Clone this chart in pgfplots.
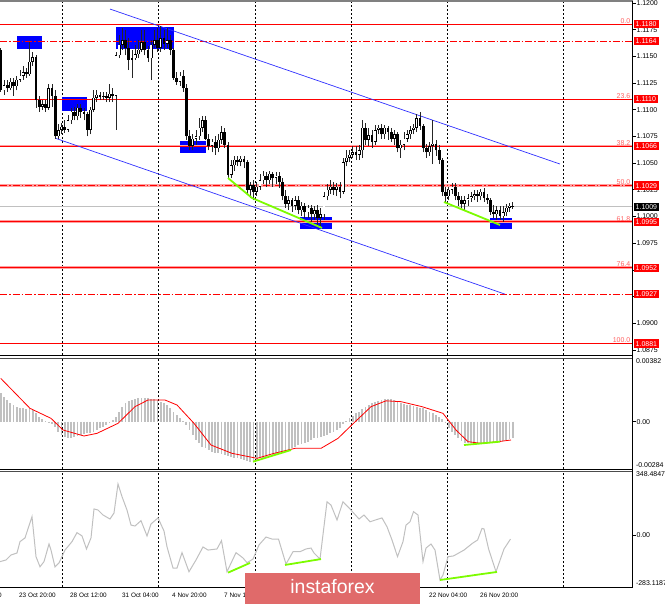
\documentclass[border=0pt]{standalone}
\usepackage{pgfplots}
\pgfplotsset{compat=1.18}
\usepackage{pgfplotstable}
\usepackage{fontspec}
\setmainfont{Liberation Sans}
\definecolor{silv}{HTML}{C0C0C0}
\definecolor{fibpink}{HTML}{FFA0A0}
\definecolor{fibtxt}{HTML}{FF6060}
\definecolor{lgreen}{HTML}{7CFC00}
\definecolor{wm}{HTML}{E06A6A}
\definecolor{chan}{HTML}{3030FF}

\pgfplotstableread{
x o h l c
3.9 1.1118 1.1128 1.1114 1.1123
10.3 1.1120 1.1130 1.1118 1.1126
16.7 1.1122 1.1132 1.1118 1.1128
19.9 1.1128 1.1137 1.1126 1.1132
23.1 1.1132 1.1141 1.1128 1.1135
29.5 1.1133 1.1163 1.1132 1.1145
32.7 1.1145 1.1154 1.1141 1.1149
42.3 1.1103 1.1109 1.1100 1.1105
48.7 1.1102 1.1124 1.1100 1.1120
58.3 1.1075 1.1087 1.1073 1.1081
61.5 1.1081 1.1088 1.1077 1.1084
67.9 1.1081 1.1095 1.1079 1.1090
71.1 1.1090 1.1102 1.1087 1.1098
77.5 1.1094 1.1105 1.1090 1.1102
90.3 1.1081 1.1103 1.1077 1.1100
93.5 1.1100 1.1118 1.1098 1.1111
96.7 1.1111 1.1118 1.1107 1.1114
103.1 1.1112 1.1117 1.1109 1.1113
109.5 1.1111 1.1124 1.1107 1.1115
115.9 1.1113 1.1154 1.1081 1.1151
119.1 1.1151 1.1170 1.1148 1.1161
122.3 1.1161 1.1177 1.1156 1.1165
131.9 1.1147 1.1156 1.1130 1.1148
135.1 1.1148 1.1161 1.1147 1.1152
138.3 1.1152 1.1165 1.1148 1.1156
141.5 1.1156 1.1175 1.1154 1.1163
151.1 1.1148 1.1165 1.1128 1.1161
154.3 1.1161 1.1175 1.1158 1.1165
160.7 1.1158 1.1178 1.1154 1.1167
167.1 1.1162 1.1177 1.1158 1.1165
179.9 1.1126 1.1135 1.1122 1.1132
192.7 1.1066 1.1077 1.1062 1.1073
195.9 1.1073 1.1081 1.1067 1.1075
199.1 1.1075 1.1092 1.1072 1.1083
202.3 1.1083 1.1094 1.1079 1.1090
211.9 1.1066 1.1073 1.1060 1.1070
218.3 1.1064 1.1077 1.1060 1.1072
221.5 1.1072 1.1085 1.1068 1.1079
231.1 1.1039 1.1053 1.1036 1.1048
234.3 1.1048 1.1057 1.1043 1.1053
240.7 1.1051 1.1057 1.1047 1.1054
250.3 1.1025 1.1032 1.1017 1.1029
256.7 1.1023 1.1032 1.1019 1.1028
259.9 1.1028 1.1040 1.1025 1.1034
263.1 1.1034 1.1043 1.1030 1.1038
269.5 1.1034 1.1043 1.1030 1.1040
275.9 1.1036 1.1042 1.1030 1.1038
288.7 1.1012 1.1019 1.1006 1.1015
295.1 1.1010 1.1019 1.1006 1.1015
301.5 1.1006 1.1014 1.1000 1.1010
307.9 1.1004 1.1011 1.0999 1.1008
314.3 1.1002 1.1010 1.0997 1.1006
320.7 1.0999 1.1008 1.0989 1.1002
323.9 1.1002 1.1023 1.0997 1.1019
327.1 1.1019 1.1030 1.1015 1.1025
330.3 1.1025 1.1034 1.1021 1.1028
336.7 1.1025 1.1031 1.1019 1.1028
343.1 1.1023 1.1055 1.1021 1.1051
346.3 1.1051 1.1062 1.1047 1.1055
349.5 1.1055 1.1062 1.1051 1.1058
352.7 1.1058 1.1066 1.1055 1.1060
359.1 1.1058 1.1067 1.1053 1.1062
362.3 1.1062 1.1090 1.1055 1.1083
368.7 1.1072 1.1083 1.1066 1.1076
375.1 1.1070 1.1086 1.1067 1.1081
378.3 1.1081 1.1086 1.1077 1.1083
384.7 1.1077 1.1086 1.1073 1.1083
394.3 1.1073 1.1081 1.1067 1.1077
400.7 1.1064 1.1072 1.1055 1.1067
403.9 1.1067 1.1079 1.1062 1.1073
407.1 1.1073 1.1081 1.1070 1.1077
410.3 1.1077 1.1085 1.1073 1.1081
413.5 1.1081 1.1087 1.1077 1.1083
416.7 1.1083 1.1096 1.1079 1.1092
429.5 1.1060 1.1070 1.1057 1.1066
432.7 1.1066 1.1090 1.1049 1.1068
448.7 1.1019 1.1028 1.1015 1.1025
451.9 1.1025 1.1031 1.1021 1.1028
464.7 1.1012 1.1019 1.1006 1.1015
467.9 1.1015 1.1021 1.1010 1.1017
471.1 1.1017 1.1023 1.1014 1.1019
474.3 1.1019 1.1025 1.1015 1.1021
480.7 1.1019 1.1026 1.1015 1.1023
496.7 1.1002 1.1010 1.0997 1.1006
503.1 1.1000 1.1010 1.0995 1.1004
506.3 1.1004 1.1012 1.1000 1.1008
509.5 1.1008 1.1013 1.1004 1.1010
}\bull

\pgfplotstableread{
x o h l c
0.7 1.1156 1.1158 1.1117 1.1118
7.1 1.1123 1.1128 1.1117 1.1120
13.5 1.1126 1.1130 1.1113 1.1122
26.3 1.1135 1.1139 1.1130 1.1133
35.9 1.1149 1.1151 1.1102 1.1109
39.1 1.1109 1.1113 1.1098 1.1103
45.5 1.1105 1.1109 1.1098 1.1102
51.9 1.1120 1.1124 1.1103 1.1113
55.1 1.1113 1.1118 1.1073 1.1075
64.7 1.1084 1.1090 1.1078 1.1081
74.3 1.1098 1.1103 1.1090 1.1094
80.7 1.1102 1.1105 1.1092 1.1098
83.9 1.1098 1.1102 1.1090 1.1096
87.1 1.1096 1.1098 1.1075 1.1081
99.9 1.1114 1.1117 1.1109 1.1112
106.3 1.1113 1.1117 1.1107 1.1111
112.7 1.1115 1.1120 1.1107 1.1113
125.5 1.1165 1.1175 1.1151 1.1158
128.7 1.1158 1.1167 1.1137 1.1147
144.7 1.1163 1.1175 1.1151 1.1156
147.9 1.1156 1.1160 1.1145 1.1148
157.5 1.1165 1.1177 1.1154 1.1158
163.9 1.1167 1.1175 1.1156 1.1162
170.3 1.1165 1.1170 1.1151 1.1156
173.5 1.1156 1.1158 1.1128 1.1130
176.7 1.1130 1.1135 1.1123 1.1126
183.1 1.1132 1.1137 1.1117 1.1120
186.3 1.1120 1.1124 1.1072 1.1075
189.5 1.1075 1.1081 1.1062 1.1066
205.5 1.1090 1.1094 1.1072 1.1073
208.7 1.1073 1.1077 1.1062 1.1066
215.1 1.1070 1.1075 1.1058 1.1064
224.7 1.1079 1.1083 1.1064 1.1067
227.9 1.1067 1.1070 1.1036 1.1039
237.5 1.1053 1.1057 1.1047 1.1051
243.9 1.1054 1.1057 1.1045 1.1051
247.1 1.1051 1.1053 1.1020 1.1025
253.5 1.1029 1.1034 1.1015 1.1023
266.3 1.1038 1.1042 1.1028 1.1034
272.7 1.1040 1.1042 1.1028 1.1036
279.1 1.1038 1.1042 1.1027 1.1032
282.3 1.1032 1.1036 1.1015 1.1019
285.5 1.1019 1.1025 1.1008 1.1012
291.9 1.1015 1.1017 1.1004 1.1010
298.3 1.1015 1.1019 1.1002 1.1006
304.7 1.1010 1.1013 1.0999 1.1004
311.1 1.1008 1.1011 1.0995 1.1002
317.5 1.1006 1.1011 1.0991 1.0999
333.5 1.1028 1.1032 1.1020 1.1025
339.9 1.1028 1.1032 1.1017 1.1023
355.9 1.1060 1.1066 1.1053 1.1058
365.5 1.1083 1.1088 1.1067 1.1072
371.9 1.1076 1.1081 1.1064 1.1070
381.5 1.1083 1.1087 1.1073 1.1077
387.9 1.1083 1.1085 1.1072 1.1079
391.1 1.1079 1.1083 1.1070 1.1073
397.5 1.1077 1.1079 1.1060 1.1064
419.9 1.1092 1.1098 1.1081 1.1085
423.1 1.1085 1.1087 1.1060 1.1064
426.3 1.1064 1.1068 1.1055 1.1060
435.9 1.1068 1.1072 1.1057 1.1062
439.1 1.1062 1.1067 1.1049 1.1053
442.3 1.1053 1.1055 1.1019 1.1023
445.5 1.1023 1.1028 1.1014 1.1019
455.1 1.1028 1.1031 1.1015 1.1019
458.3 1.1019 1.1023 1.1010 1.1015
461.5 1.1015 1.1019 1.1008 1.1012
477.5 1.1021 1.1025 1.1014 1.1019
483.9 1.1023 1.1027 1.1014 1.1017
487.1 1.1017 1.1021 1.1012 1.1015
490.3 1.1015 1.1017 1.1001 1.1004
493.5 1.1004 1.1011 1.0999 1.1002
499.9 1.1006 1.1010 1.0997 1.1000
512.7 1.1010 1.1014 1.1007 1.1009
}\bear

\pgfplotstableread{
j v
0 0.0017
1 0.0015
2 0.0013
3 0.0011
4 0.0010
5 0.0009
6 0.0008
7 0.0008
8 0.00075
9 0.0008
10 0.0007
11 0.0005
12 0.0003
13 0.00015
14 0.00005
15 -0.00005
16 -0.00015
17 -0.0003
18 -0.0006
19 -0.0008
20 -0.0009
21 -0.00095
22 -0.00095
23 -0.0009
24 -0.00085
25 -0.0008
26 -0.00075
27 -0.0007
28 -0.00065
29 -0.0006
30 -0.0005
31 -0.0004
32 -0.0003
33 -0.0002
34 -0.0001
35 0.0001
36 0.0003
37 0.0006
38 0.0009
39 0.0011
40 0.00125
41 0.0013
42 0.00135
43 0.0014
44 0.0014
45 0.0014
46 0.0014
47 0.00135
48 0.00135
49 0.0013
50 0.0012
51 0.0011
52 0.0010
53 0.0008
54 0.0006
55 0.0004
56 0.0002
57 0.00005
58 -0.0002
59 -0.0005
60 -0.0008
61 -0.0011
62 -0.0013
63 -0.0015
64 -0.0016
65 -0.0017
66 -0.0018
67 -0.00185
68 -0.0019
69 -0.00195
70 -0.0020
71 -0.00205
72 -0.0021
73 -0.00215
74 -0.0022
75 -0.00225
76 -0.0023
77 -0.00235
78 -0.0024
79 -0.0024
80 -0.0023
81 -0.0022
82 -0.00215
83 -0.0021
84 -0.00205
85 -0.0020
86 -0.00195
87 -0.0019
88 -0.00185
89 -0.0018
90 -0.0017
91 -0.0016
92 -0.0015
93 -0.0014
94 -0.00135
95 -0.0013
96 -0.0012
97 -0.0011
98 -0.0010
99 -0.00095
100 -0.0009
101 -0.00085
102 -0.0008
103 -0.0007
104 -0.0006
105 -0.0005
106 -0.00035
107 -0.00015
108 0.00005
109 0.0002
110 0.00035
111 0.0005
112 0.0006
113 0.00075
114 0.0009
115 0.0010
116 0.0011
117 0.0012
118 0.00125
119 0.0013
120 0.00135
121 0.00135
122 0.00135
123 0.0013
124 0.0012
125 0.0011
126 0.00105
127 0.0010
128 0.0010
129 0.00095
130 0.0009
131 0.00085
132 0.0008
133 0.0007
134 0.0006
135 0.0005
136 0.0004
137 0.0003
138 0.00015
139 -0.0001
140 -0.0004
141 -0.0006
142 -0.0008
143 -0.0010
144 -0.00115
145 -0.00125
146 -0.0013
147 -0.0013
148 -0.0013
149 -0.0013
150 -0.0013
151 -0.00125
152 -0.00125
153 -0.00125
154 -0.00125
155 -0.0012
156 -0.0012
157 -0.00115
158 -0.0011
159 -0.00105
160 -0.0010
}\macdhist

\pgfplotstableread{
x v
0.7 0.0026
30 0.0008
51 0.0002
63 -0.0005
84 -0.00086
97 -0.0007
118 -0.0001
135 0.0009
148 0.0013
165 0.0013
177 0.0010
194 -0.0001
211 -0.0014
232 -0.0019
257 -0.0022
274 -0.0019
295 -0.0016
321 -0.0016
338 -0.0010
350 -0.0003
371 0.0009
386 0.00125
401 0.0012
422 0.0009
443 0.0005
456 -0.0005
468 -0.0012
481 -0.0013
498 -0.0012
511 -0.0011
}\macdsig

\pgfplotstableread{
x v
0 -145
6 -136
11 -109
17 -98
20 -36
25 -16
32 100
36 -118
40 -173
44 -145
49 -49
51 -82
55 -174
59 -152
65 -82
72 -36
77 13
82 -5
86.5 -76
91 -16
94 142
98 136
103 109
110 87
114 120
118 278
122 209
127 136
131 54
135 49
141 78
147 -5
151 60
158 93
164 22
167 -64
173 -180
177 -180
182 -96
189 -200
196 -136
203 -65
208 -82
217 -76
221.5 -31
227 -200
236 -96
243 -125
247 -151
253 -131
259 -54
266 -11
272 -22
278.5 -22
286 -158
293 -91
300 -91
306 -76
311 -71
314 -98
320 -131
327 181
331 163
337 82
343 181
350 142
359 87
364 109
370 72
375.5 82
382 93
387 45
392 -27
397.5 -118
403 -36
406 54
410 72
413.5 127
418 109
423 -145
426 -71
431 -49
435 -82
440 -245
443 -218
448 -118
453.5 -114
464 -82
472.5 -45
477.6 -27
482 36
484 33
488.6 -76
496 -200
504 -76
510.5 -22
}\cci

\pgfplotsset{
  mt/.style={
    scale only axis, width=632.5bp, xmin=0, xmax=632.5,
    anchor=north west, clip mode=individual,
    axis line style={draw=none},
    xtick={62,158,255,351,447,563}, xticklabels={},
    xmajorgrids, xtick style={draw=none},
    x grid style={black, line width=0.6bp, dash pattern=on 2bp off 2bp},
    ytick pos=right, yticklabel pos=right, tick align=outside,
    major tick length=3bp, ytick style={black, line width=0.6bp},
    yticklabel style={font=\fontsize{7}{8}\selectfont, inner sep=0.8bp},
    /pgf/number format/assume math mode=true,
    scaled y ticks=false,
  },
  lvl/.style={forget plot, line width=0.9bp, red},
  halo/.style={forget plot, line width=2.6bp, fibpink},
  dd/.style={forget plot, line width=0.9bp, red, dash pattern=on 7bp off 2bp on 1.5bp off 2bp},
  box/.style={fill=blue, draw=none, forget plot},
  wick/.style={draw=none, forget plot, error bars/.cd, y dir=plus, y explicit, error mark=none, error bar style={draw=black!85, line width=0.7bp}},
  bodyk/.style={draw=none, forget plot, error bars/.cd, y dir=plus, y explicit, error mark=none, error bar style={draw=black, line width=2.8bp}},
  bodyw/.style={draw=none, forget plot, error bars/.cd, y dir=plus, y explicit, error mark=none, error bar style={draw=white, line width=1.3bp}},
}
\tikzset{
  rlab/.style={anchor=west, fill=red, text=white, font=\fontsize{7}{8}\selectfont, inner xsep=2bp, inner ysep=1.5bp, text height=5.2bp, text depth=0bp},
  flab/.style={anchor=south east, text=fibtxt, font=\fontsize{7}{8}\selectfont, inner sep=0.5bp},
}

\begin{document}
\begin{tikzpicture}[x=1bp,y=1bp]
\useasboundingbox (0bp,0bp) rectangle (665bp,-604bp);

% ---------------- main price panel
\begin{axis}[mt, at={(0bp,-2bp)}, height=353bp,
  ymin=1.08702, ymax=1.12009,
  ytick={1.0875,1.0900,1.0925,1.0950,1.0975,1.1000,1.1025,1.1050,1.1075,1.1100,1.1125,1.1150,1.1175,1.1200},
  yticklabel style={/pgf/number format/fixed, /pgf/number format/fixed zerofill, /pgf/number format/precision=4}]
% boxes
\addplot[box] coordinates {(17,1.1169) (42,1.1169) (42,1.11566) (17,1.11566)};
\addplot[box] coordinates {(62,1.11119) (87,1.11119) (87,1.10987) (62,1.10987)};
\addplot[box] coordinates {(116,1.11775) (174,1.11775) (174,1.11569) (116,1.11569)};
\addplot[box] coordinates {(180,1.10706) (206,1.10706) (206,1.10594) (180,1.10594)};
\addplot[box] coordinates {(300,1.09994) (332,1.09994) (332,1.09881) (300,1.09881)};
\addplot[box] coordinates {(490,1.09985) (512,1.09985) (512,1.09881) (490,1.09881)};
% levels
\addplot[halo] coordinates {(0,1.1066) (632.5,1.1066)};
\addplot[halo] coordinates {(0,1.1029) (632.5,1.1029)};
\addplot[halo] coordinates {(0,1.0995) (632.5,1.0995)};
\addplot[halo] coordinates {(0,1.0952) (632.5,1.0952)};
\addplot[lvl] coordinates {(0,1.1180) (632.5,1.1180)};
\addplot[dd] coordinates {(0,1.1164) (632.5,1.1164)};
\addplot[lvl] coordinates {(0,1.1110) (632.5,1.1110)};
\addplot[lvl] coordinates {(0,1.1066) (632.5,1.1066)};
\addplot[dd] coordinates {(0,1.1029) (632.5,1.1029)};
\addplot[lvl] coordinates {(0,1.0995) (632.5,1.0995)};
\addplot[lvl] coordinates {(0,1.0952) (632.5,1.0952)};
\addplot[dd] coordinates {(0,1.0927) (632.5,1.0927)};
\addplot[lvl] coordinates {(0,1.0881) (632.5,1.0881)};
\addplot[forget plot, silv, line width=0.8bp] coordinates {(0,1.1009) (632.5,1.1009)};
% channel
\addplot[forget plot, chan, line width=0.7bp] coordinates {(110,1.11943) (560,1.10491)};
\addplot[forget plot, chan, line width=0.7bp] coordinates {(55,1.10734) (505,1.09272)};
% candles
\addplot[wick] table[x=x, y=l, y error plus expr=\thisrow{h}-\thisrow{l}] {\bear};
\addplot[wick] table[x=x, y=l, y error plus expr=\thisrow{h}-\thisrow{l}] {\bull};
\addplot[bodyk] table[x=x, y=c, y error plus expr=\thisrow{o}-\thisrow{c}] {\bear};
\addplot[bodyk] table[x=x, y=o, y error plus expr=\thisrow{c}-\thisrow{o}] {\bull};
\addplot[bodyw] table[x=x, y expr=\thisrow{o}+0.00005, y error plus expr={max(\thisrow{c}-\thisrow{o}-0.0001,0)}] {\bull};
% divergence lines
\addplot[forget plot, lgreen, line width=1.8bp] coordinates {(228,1.10360) (252,1.10173) (322,1.09892)};
\addplot[forget plot, lgreen, line width=1.8bp] coordinates {(444,1.10135) (500,1.09920)};
% fib labels
\node[flab] at (axis cs:631,1.1180) {0.0};
\node[flab] at (axis cs:631,1.1110) {23.6};
\node[flab] at (axis cs:631,1.1066) {38.2};
\node[flab] at (axis cs:631,1.1029) {50.0};
\node[flab] at (axis cs:631,1.0995) {61.8};
\node[flab] at (axis cs:631,1.0952) {76.4};
\node[flab] at (axis cs:631,1.0881) {100.0};
% price labels
\node[rlab] at (axis cs:633.5,1.1180) {1.1180};
\node[rlab] at (axis cs:633.5,1.1164) {1.1164};
\node[rlab] at (axis cs:633.5,1.1110) {1.1110};
\node[rlab] at (axis cs:633.5,1.1066) {1.1066};
\node[rlab] at (axis cs:633.5,1.1029) {1.1029};
\node[rlab, fill=black] at (axis cs:633.5,1.1009) {1.1009};
\node[rlab] at (axis cs:633.5,1.0995) {1.0995};
\node[rlab] at (axis cs:633.5,1.0952) {1.0952};
\node[rlab] at (axis cs:633.5,1.0927) {1.0927};
\node[rlab] at (axis cs:633.5,1.0881) {1.0881};
\end{axis}

% ---------------- MACD panel
\begin{axis}[mt, at={(0bp,-358bp)}, height=111bp,
  ymin=-0.00284, ymax=0.00382, ytick={0}, yticklabels={0.00}]
\addplot[forget plot, ycomb, silv, line width=1.8bp] table[x expr=0.7+3.2*\thisrow{j}, y=v] {\macdhist};
\addplot[forget plot, red, line width=0.8bp] table[x=x, y=v] {\macdsig};
\addplot[forget plot, lgreen, line width=1.8bp] coordinates {(253,-0.0024) (291,-0.0017)};
\addplot[forget plot, lgreen, line width=1.8bp] coordinates {(464,-0.0014) (500,-0.0012)};
\node[anchor=north west, font=\fontsize{7}{8}\selectfont, inner sep=0.8bp] at (axis cs:635,0.00382) {0.00382};
\node[anchor=south west, font=\fontsize{7}{8}\selectfont, inner sep=0.8bp] at (axis cs:635,-0.00284) {-0.00284};
\end{axis}

% ---------------- CCI panel
\begin{axis}[mt, at={(0bp,-471bp)}, height=116bp,
  ymin=-283.1187, ymax=348.4847, ytick={0}, yticklabels={0.00}]
\addplot[forget plot, silv, line width=1.0bp] table[x=x, y=v] {\cci};
\addplot[forget plot, lgreen, line width=1.8bp] coordinates {(228,-205) (250,-152)};
\addplot[forget plot, lgreen, line width=1.8bp] coordinates {(285,-163) (321,-131)};
\addplot[forget plot, lgreen, line width=1.8bp] coordinates {(440,-245) (497,-201)};
\node[anchor=north west, font=\fontsize{7}{8}\selectfont, inner sep=0.8bp] at (axis cs:635,348.4847) {348.4847};
\node[anchor=south west, font=\fontsize{7}{8}\selectfont, inner sep=0.8bp] at (axis cs:635,-283.1187) {-283.1187};
\end{axis}

% frames
\draw[gray, line width=1.4bp] (0bp,-1.2bp) -- (632.5bp,-1.2bp);
\draw[black, line width=0.8bp] (0bp,-355bp) -- (632.5bp,-355bp);
\draw[black!70, line width=0.8bp] (0bp,-358bp) -- (632.5bp,-358bp);
\draw[black, line width=0.8bp] (0bp,-469bp) -- (632.5bp,-469bp);
\draw[black!70, line width=0.8bp] (0bp,-471.5bp) -- (632.5bp,-471.5bp);
\draw[black, line width=0.8bp] (0bp,-587bp) -- (632.5bp,-587bp);
\draw[black, line width=0.8bp] (632.5bp,-1bp) -- (632.5bp,-587bp);

% time labels
\begin{scope}[every node/.style={anchor=west, font=\fontsize{6.4}{7}\selectfont, inner sep=0}]
\node at (-35bp,-595bp) {21 Oct 04:00};
\node at (19bp,-595bp) {23 Oct 20:00};
\node at (70bp,-595bp) {28 Oct 12:00};
\node at (122bp,-595bp) {31 Oct 04:00};
\node at (172bp,-595bp) {4 Nov 20:00};
\node at (224bp,-595bp) {7 Nov 12:00};
\node at (275bp,-595bp) {12 Nov 04:00};
\node at (326bp,-595bp) {14 Nov 20:00};
\node at (378bp,-595bp) {19 Nov 12:00};
\node at (429bp,-595bp) {22 Nov 04:00};
\node at (480bp,-595bp) {26 Nov 20:00};
\end{scope}

% watermark
\fill[wm] (245bp,-573bp) rectangle (420bp,-606bp);
\node[text=white, font=\fontsize{19.5}{20}\selectfont, inner sep=0] at (332.5bp,-587bp) {instaforex};
\end{tikzpicture}
\end{document}
